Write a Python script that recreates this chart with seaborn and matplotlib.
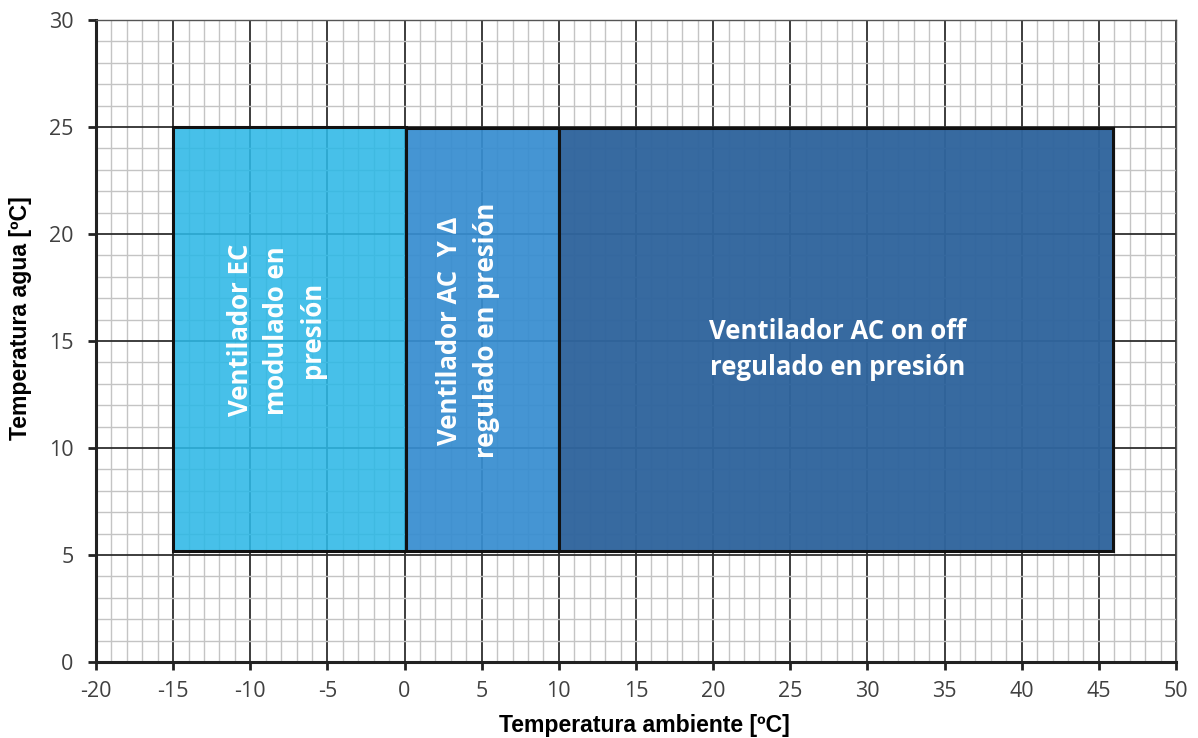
import numpy as np
import seaborn as sns
import matplotlib.pyplot as plt
from matplotlib.colors import to_rgba
from matplotlib.ticker import MultipleLocator

# zonas de funcionamiento (temperatura ambiente x, temperatura agua y)
zone_labels = ['Ventilador EC\nmodulado en\npresión',
               'Ventilador AC  Y Δ\nregulado en presión',
               'Ventilador AC on off\nregulado en presión']
x_start = [-15, 0.1, 10]
x_end = [0.1, 10, 45.9]
y_low = [5.2, 5.2, 5.2]
y_high = [25, 24.95, 24.95]
zone_colors = ['#2db8e6', '#378dd0', '#30659d']
zone_alpha = [0.88, 0.93, 0.97]
label_x = [-8.3, 4.1, 28.1]
label_y = [15.5, 15.5, 14.6]
label_rot = [90, 90, 0]

x_ticks = list(range(-20, 51, 5))
y_ticks = list(range(0, 31, 5))

sns.set_style('white')
plt.rcParams['font.family'] = ['Open Sans', 'DejaVu Sans']
plt.rcParams['axes.unicode_minus'] = False

fig = plt.figure(figsize=(11.98, 7.38), dpi=100)
ax = fig.add_axes([0.0801, 0.103, 0.9015, 0.870])

widths = np.array(x_end) - np.array(x_start)
heights = np.array(y_high) - np.array(y_low)
face = [to_rgba(c, a) for c, a in zip(zone_colors, zone_alpha)]
ax.bar(x_start, heights, width=widths, bottom=y_low, align='edge',
       color=face, edgecolor='#111111', linewidth=2.2, zorder=3)

ax.set_xlim(-20, 50)
ax.set_ylim(0, 30)
ax.xaxis.set_minor_locator(MultipleLocator(1))
ax.yaxis.set_minor_locator(MultipleLocator(1))
ax.set_xticks(x_ticks)
ax.set_yticks(y_ticks)
ax.set_axisbelow(True)
ax.grid(which='minor', color='#c4c4c4', linewidth=1, zorder=0)
ax.grid(which='major', color='#2e2e2e', linewidth=1.3, zorder=0)

for name in ['top', 'right']:
    ax.spines[name].set_color('#555555')
    ax.spines[name].set_linewidth(1)
for name in ['left', 'bottom']:
    ax.spines[name].set_color('#222222')
    ax.spines[name].set_linewidth(2.2)

ax.tick_params(which='major', direction='out', length=6, width=2, color='#222222',
               labelsize=15.5, labelcolor='#404040', left=True, bottom=True)
ax.tick_params(axis='x', which='major', pad=8)
ax.tick_params(axis='y', which='major', pad=10)
ax.tick_params(which='minor', length=0)

for txt, lx, ly, rot in zip(zone_labels, label_x, label_y, label_rot):
    ax.text(lx, ly, txt, rotation=rot, ha='center', va='center', color='white',
            fontsize=18.5, fontweight='bold', linespacing=1.45, zorder=4)

ax.set_xlabel('Temperatura ambiente [ºC]', fontsize=16.6, fontweight='bold',
              color='black', family=['Liberation Sans', 'DejaVu Sans'])
ax.set_ylabel('Temperatura agua [ºC]', fontsize=16.6, fontweight='bold',
              color='black', family=['Liberation Sans', 'DejaVu Sans'])
ax.xaxis.set_label_coords(0.508, -0.081)
ax.yaxis.set_label_coords(-0.059, 0.536)

plt.savefig('out.png', dpi=100)
plt.close()
